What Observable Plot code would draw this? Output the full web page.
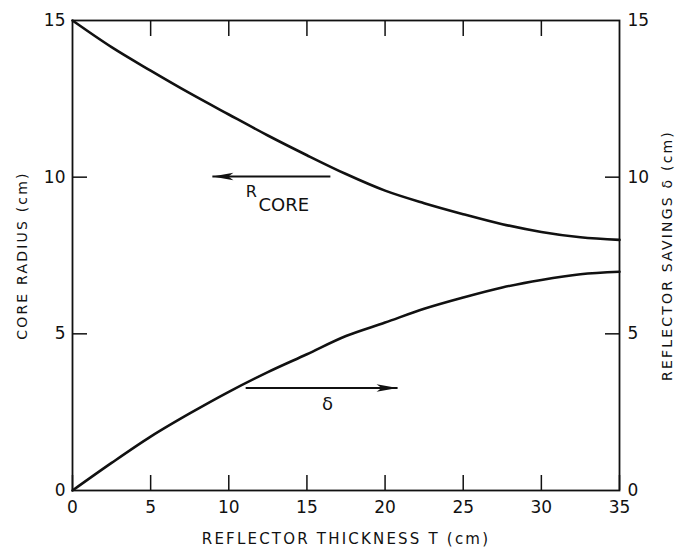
<!DOCTYPE html>
<html><head><meta charset="utf-8">
<script src="https://cdn.jsdelivr.net/npm/d3@7"></script>
<script src="https://cdn.jsdelivr.net/npm/@observablehq/plot@0.6"></script>
<style>body{margin:0;background:#fff} .ttl{letter-spacing:2.2px}</style>
</head><body><div id="chart"></div>
<script>
// Data
const thickness  = [0, 2.5, 5, 7.5, 10, 12.5, 15, 17.5, 20, 22.5, 25, 27.5, 30, 32.5, 35];
const coreRadius = [15, 14.15, 13.4, 12.68, 12.0, 11.33, 10.7, 10.1, 9.57, 9.17, 8.82, 8.5, 8.25, 8.08, 8.0];
const savings    = [0, 0.88, 1.72, 2.46, 3.15, 3.78, 4.35, 4.93, 5.36, 5.8, 6.16, 6.48, 6.72, 6.9, 6.98];
const xTicks = [0, 5, 10, 15, 20, 25, 30, 35];
const yTicks = [0, 5, 10, 15];
const xLabel = "REFLECTOR THICKNESS T (cm)";
const yLabelLeft = "CORE RADIUS (cm)";
const yLabelRight = "REFLECTOR SAVINGS \u03b4 (cm)";
// annotation arrows (data units)
const arrowFrom = [{x: 16.5, y: 10.02}, {x: 11.08, y: 3.27}];
const arrowTo   = [{x: 8.95, y: 10.02}, {x: 20.8, y: 3.27}];

const rCore = thickness.map((t, i) => ({t, v: coreRadius[i]}));
const delta = thickness.map((t, i) => ({t, v: savings[i]}));
const arrows = arrowFrom.map((a, i) => ({x1: a.x, y1: a.y, x2: arrowTo[i].x, y2: arrowTo[i].y, rot: arrowTo[i].x < a.x ? 180 : 0}));

const arrowHead = {
  draw(ctx) {
    ctx.moveTo(0, 0);
    ctx.lineTo(-21, -3.8);
    ctx.lineTo(-16, 0);
    ctx.lineTo(-21, 3.8);
    ctx.closePath();
  }
};

const font = "DejaVu Sans, sans-serif";
const chart = Plot.plot({
  width: 679,
  height: 553,
  marginLeft: 72,
  marginRight: 60,
  marginTop: 20,
  marginBottom: 63,
  style: {fontFamily: font, fontSize: "17px", color: "#111", background: "#fff"},
  x: {domain: [0, 35]},
  y: {domain: [0, 15]},
  marks: [
    // inward ticks on all four sides
    Plot.axisX(xTicks, {anchor: "bottom", tickSize: 15, dy: -15, tickFormat: () => "", label: null, strokeWidth: 1.5}),
    Plot.axisX(xTicks.slice(1, -1), {anchor: "top", tickSize: 15, dy: 15, tickFormat: () => "", label: null, strokeWidth: 1.5}),
    Plot.axisY(yTicks.slice(1, -1), {anchor: "left", tickSize: 15, dx: 15, tickFormat: () => "", label: null, strokeWidth: 1.5}),
    Plot.axisY(yTicks.slice(1, -1), {anchor: "right", tickSize: 15, dx: -15, tickFormat: () => "", label: null, strokeWidth: 1.5}),
    // tick labels
    Plot.axisX(xTicks, {anchor: "bottom", tickSize: 0, tickPadding: 10, label: null, fontSize: 17}),
    Plot.axisY(yTicks, {anchor: "left", tickSize: 0, tickPadding: 7, label: null, fontSize: 17}),
    Plot.axisY(yTicks, {anchor: "right", tickSize: 0, tickPadding: 8, label: null, fontSize: 17}),
    Plot.frame({stroke: "#111", strokeWidth: 1.8}),
    // axis titles
    Plot.text([xLabel], {frameAnchor: "bottom", dy: 53, fontSize: 15, textAnchor: "middle", text: d => d, className: "ttl"}),
    Plot.text([yLabelLeft], {frameAnchor: "left", dx: -50, rotate: -90, fontSize: 14, textAnchor: "middle", text: d => d, className: "ttl"}),
    Plot.text([yLabelRight], {frameAnchor: "right", dx: 48, rotate: -90, fontSize: 14, textAnchor: "middle", text: d => d, className: "ttl"}),
    // curves
    Plot.line(rCore, {x: "t", y: "v", curve: "monotone-x", stroke: "#111", strokeWidth: 2.6}),
    Plot.line(delta, {x: "t", y: "v", curve: "monotone-x", stroke: "#111", strokeWidth: 2.6}),
    // annotation arrows
    Plot.link(arrows, {x1: "x1", y1: "y1", x2: "x2", y2: "y2", stroke: "#111", strokeWidth: 2}),
    Plot.dot(arrows, {x: "x2", y: "y2", symbol: arrowHead, rotate: "rot", fill: "#111", stroke: "none"}),
    Plot.text(["R"], {x: 11.08, y: 9.37, text: d => d, textAnchor: "start", lineAnchor: "bottom", fontSize: 16}),
    Plot.text(["CORE"], {x: 11.9, y: 8.92, text: d => d, textAnchor: "start", lineAnchor: "bottom", fontSize: 18}),
    Plot.text(["\u03b4"], {x: 16.31, y: 2.56, text: d => d, textAnchor: "middle", lineAnchor: "bottom", fontSize: 18})
  ]
});
document.getElementById("chart").appendChild(chart);
</script>
</body></html>
